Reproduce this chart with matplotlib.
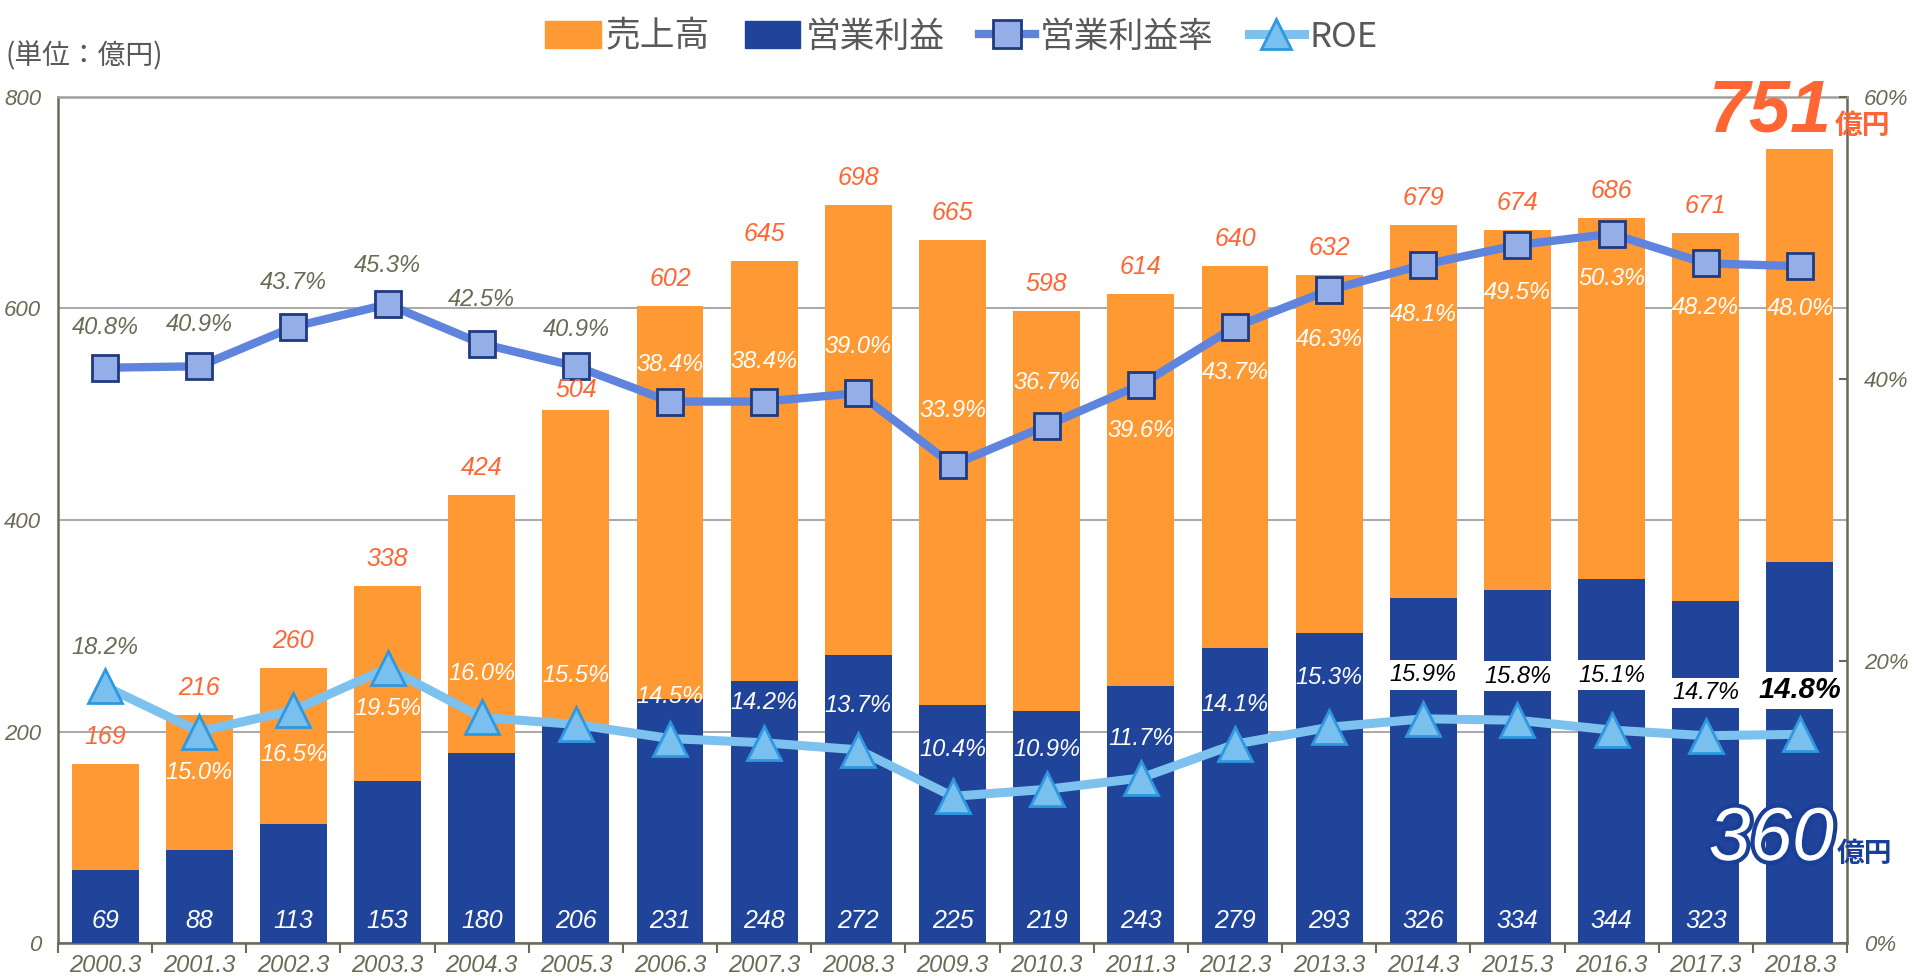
import matplotlib.pyplot as plt
import matplotlib.patheffects as pe
from matplotlib.lines import Line2D
from matplotlib.patches import Patch
import numpy as np

years = ['2000.3', '2001.3', '2002.3', '2003.3', '2004.3', '2005.3', '2006.3', '2007.3',
         '2008.3', '2009.3', '2010.3', '2011.3', '2012.3', '2013.3', '2014.3', '2015.3',
         '2016.3', '2017.3', '2018.3']
sales = [169, 216, 260, 338, 424, 504, 602, 645, 698, 665, 598, 614, 640, 632, 679, 674, 686, 671, 751]
op_profit = [69, 88, 113, 153, 180, 206, 231, 248, 272, 225, 219, 243, 279, 293, 326, 334, 344, 323, 360]
op_margin = [40.8, 40.9, 43.7, 45.3, 42.5, 40.9, 38.4, 38.4, 39.0, 33.9, 36.7, 39.6, 43.7, 46.3,
             48.1, 49.5, 50.3, 48.2, 48.0]
roe = [18.2, 15.0, 16.5, 19.5, 16.0, 15.5, 14.5, 14.2, 13.7, 10.4, 10.9, 11.7, 14.1, 15.3,
       15.9, 15.8, 15.1, 14.7, 14.8]

# label placement (pixels above (+) / below (-) the point)
sales_off = [27, 27, 27, 27, 27, 20, 27, 27, 27, 27, 27, 27, 27, 27, 27, 27, 27, 27, 27]
margin_off = [40, 42, 44, 39, 44, 37, 37, 40, 47, 55, 43, -46, -46, -49, -50, -47, -45, -44, -42]
roe_off = [39, -41, -44, -40, 44, 49, 42, 40, 44, 47, 40, 40, 40, 50, 44, 44, 55, 43, 44]

ORANGE = '#FF9933'
NAVY = '#21449B'
OLIVE = '#6B6B55'
SALES_TXT = '#FF6633'
NUM = ['Liberation Sans', 'DejaVu Sans']
JP = ['Noto Sans CJK JP', 'DejaVu Sans']

fig = plt.figure(figsize=(19.15, 9.76), dpi=100)
ax = fig.add_axes([58/1915, 1 - 943/976, (1847-58)/1915, (943-97)/976])
x = np.arange(len(years))

ax.bar(x, sales, width=0.71, color=ORANGE, zorder=2)
ax.bar(x, op_profit, width=0.71, color=NAVY, zorder=3)

ax.set_xlim(-0.5, len(years) - 0.5)
ax.set_ylim(0, 800)
ax.set_yticks([0, 200, 400, 600, 800])
ax.grid(axis='y', color='#ABABAB', lw=1.5, zorder=0)
ax.tick_params(axis='y', length=0, pad=12, labelsize=16, labelcolor=OLIVE)
ax.set_xticks(x)
ax.set_xticklabels(years)
ax.set_xticks(np.arange(-0.5, len(years)), minor=True)
ax.tick_params(axis='x', which='major', length=0, pad=8, labelsize=17, labelcolor=OLIVE)
ax.tick_params(axis='x', which='minor', length=7, width=1.5, color=OLIVE)
for lab in ax.get_xticklabels() + ax.get_yticklabels():
    lab.set_fontstyle('italic')
    lab.set_family(NUM)
for s in ['left', 'bottom', 'right']:
    ax.spines[s].set_color(OLIVE)
    ax.spines[s].set_linewidth(1.8)
ax.spines['top'].set_color('#A0A0A0')
ax.spines['top'].set_linewidth(1.8)

for i in range(len(years) - 1):
    ax.annotate(str(op_profit[i]), (x[i], 0), xytext=(0, 22), textcoords='offset pixels',
                ha='center', va='center', fontsize=18, style='italic', color='white',
                family=NUM, zorder=5)

ax2 = ax.twinx()
ax2.set_ylim(0, 60)
ax2.set_yticks([0, 20, 40, 60])
ax2.set_yticklabels(['0%', '20%', '40%', '60%'])
ax2.tick_params(axis='y', direction='in', length=6, width=1.5, color=OLIVE, pad=12,
                labelsize=16, labelcolor=OLIVE)
for lab in ax2.get_yticklabels():
    lab.set_fontstyle('italic')
    lab.set_family(NUM)
for s in ax2.spines.values():
    s.set_visible(False)

ax2.plot(x, op_margin, color='#5F84DD', lw=6, marker='s', ms=19, mfc='#94AEE8',
         mec='#1F3A80', mew=2, zorder=4)
ax2.plot(x, roe, color='#7DC1EE', lw=6.5, marker='^', ms=24, mfc='#7AC0EE',
         mec='#2E98E0', mew=2, zorder=4)

# sales labels go on the top axes so the margin line doesn't hide them
for i in range(len(years) - 1):
    ax2.annotate(str(sales[i]), (x[i], sales[i] * 60 / 800), xytext=(0, sales_off[i]),
                 textcoords='offset pixels', ha='center', va='center', fontsize=18,
                 style='italic', color=SALES_TXT, family=NUM, zorder=6)

for i, v in enumerate(op_margin):
    col = OLIVE if i < 6 else 'white'
    ax2.annotate(f'{v:.1f}%', (x[i], v), xytext=(0, margin_off[i]), textcoords='offset pixels',
                 ha='center', va='center', fontsize=17, style='italic', color=col,
                 family=NUM, zorder=6)

for i, v in enumerate(roe):
    kw = dict(ha='center', va='center', style='italic', family=NUM, zorder=6)
    if i == 0:
        kw.update(color=OLIVE, fontsize=17)
    elif i < 14:
        kw.update(color='white', fontsize=17)
    elif i < 18:
        kw.update(color='black', fontsize=17,
                  bbox=dict(boxstyle='square,pad=0.15', fc='white', ec='none'))
    else:
        kw.update(color='black', fontsize=21, weight='bold',
                  bbox=dict(boxstyle='square,pad=0.15', fc='white', ec='none'))
    ax2.annotate(f'{v:.1f}%', (x[i], v), xytext=(0, roe_off[i]), textcoords='offset pixels', **kw)

# headline numbers for the latest year
fig.text(1832/1915, 1 - 132/976, str(sales[-1]), ha='right', va='baseline', fontsize=53,
         weight='bold', style='italic', color=SALES_TXT, family=NUM, zorder=10)
fig.text(1835/1915, 1 - 134/976, '億円', ha='left', va='baseline', fontsize=20,
         weight='bold', color=SALES_TXT, family=JP, zorder=10)
fig.text(1834/1915, 1 - 860/976, str(op_profit[-1]), ha='right', va='baseline', fontsize=54,
         style='italic', color='white', family=['Liberation Sans Narrow', 'Liberation Sans'],
         zorder=10, path_effects=[pe.withStroke(linewidth=6, foreground='#1A3F99')])
fig.text(1837/1915, 1 - 862/976, '億円', ha='left', va='baseline', fontsize=20,
         weight='bold', color='#1A3F99', family=JP, zorder=10)

fig.text(6/1915, 1 - 56/976, '(単位：億円)', ha='left', va='center', fontsize=20,
         color='#595959', family=JP)

handles = [
    Patch(color=ORANGE, label='売上高'),
    Patch(color=NAVY, label='営業利益'),
    Line2D([], [], color='#5F84DD', lw=6, marker='s', ms=20, mfc='#94AEE8', mec='#1F3A80',
           mew=2, label='営業利益率'),
    Line2D([], [], color='#7DC1EE', lw=6.5, marker='^', ms=21, mfc='#7AC0EE', mec='#2E98E0',
           mew=2, label='ROE'),
]
fig.legend(handles=handles, loc='upper center', bbox_to_anchor=(0.502, 1.012), ncol=4,
           frameon=False, prop={'family': JP, 'size': 25}, labelcolor='#595959',
           handlelength=1.6, handleheight=0.85, handletextpad=0.15, columnspacing=1.0)

fig.savefig('out.png', dpi=100)
